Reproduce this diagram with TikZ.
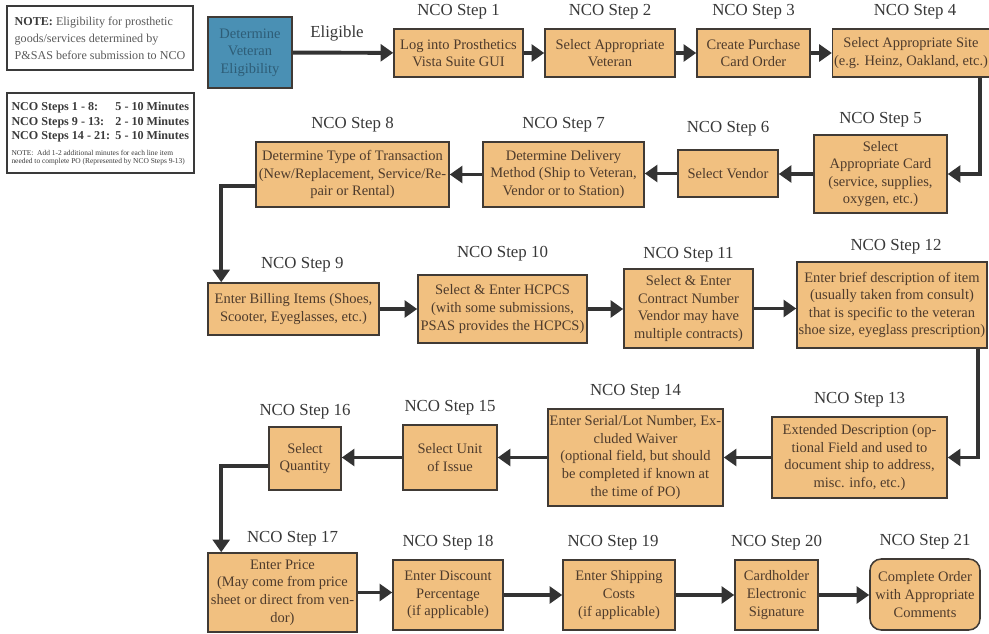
\documentclass[tikz,border=0pt]{standalone}
\usepackage{fontspec}
\setmainfont{Liberation Serif}
\usetikzlibrary{arrows.meta, positioning}
\definecolor{boxfill}{HTML}{F1C080}
\definecolor{boxline}{HTML}{403A35}
\definecolor{boxtext}{HTML}{4E3B2C}
\definecolor{labeltext}{HTML}{383838}
\definecolor{arrowgray}{HTML}{333333}
\definecolor{vetfill}{HTML}{4A90B4}
\definecolor{vettext}{HTML}{2E5D77}
\definecolor{notegray}{HTML}{3A3A3A}
\definecolor{notetext}{HTML}{5A5A5A}

\begin{document}
\begin{tikzpicture}[
	ncobox/.style={draw=boxline, fill=boxfill, line width=1.1pt, align=center, text=boxtext, inner sep=1pt, font=\fontsize{10.3}{12.5}\selectfont},
	stepname/.style={text=labeltext, inner sep=0pt, font=\fontsize{12}{14}\selectfont},
	flow/.style={draw=arrowgray, line width=2.8pt, -{Triangle[length=9pt,width=12pt]}},
	notebox/.style={draw=notegray, line width=2pt, text=notetext, inner sep=0pt}]
%	\draw[help lines] (0,0) grid (25,-16);
	\useasboundingbox (0,0) rectangle (24.725,-15.85);

	\node[notebox, align=left, minimum width=4.65cm, minimum height=1.6cm, font=\fontsize{8.6}{12}\selectfont] (note) at (2.5,-0.95)
		{\textcolor{notegray}{\textbf{NOTE:}} Eligibility for prosthetic\\goods/services determined by\\P\&SAS before submission to NCO};
	\node[notebox, minimum width=4.675cm, minimum height=2cm, text=notegray] (times) at (2.5125,-3.325)
		{\parbox{4.45cm}{\fontsize{8.6}{10.4}\selectfont\bfseries
		\begin{tabular}{@{}p{2.6cm}@{}l@{}}
		NCO Steps 1 - 8: & 5 - 10 Minutes\\
		NCO Steps 9 - 13: & 2 - 10 Minutes\\
		NCO Steps 14 - 21: & 5 - 10 Minutes
		\end{tabular}\par\vspace{3pt}
		\fontsize{5.3}{6.2}\selectfont\mdseries NOTE:\ \ Add 1-2 additional minutes for each line item\\needed to complete PO (Represented by NCO Steps 9-13)}};

	\node[ncobox, fill=vetfill, text=vettext, minimum width=2.1cm, minimum height=1.775cm] (vet) at (6.25,-1.3125) {Determine\\Veteran\\Eligibility};

	\node[ncobox, minimum width=3.225cm, minimum height=1.2cm] (s1) at (11.4625,-1.325) {Log into Prosthetics\\Vista Suite GUI};
	\node[ncobox, minimum width=3.25cm, minimum height=1.2cm] (s2) at (15.25,-1.325) {Select Appropriate\\Veteran};
	\node[ncobox, minimum width=2.825cm, minimum height=1.2cm] (s3) at (18.8375,-1.325) {Create Purchase\\Card Order};
	\node[ncobox, minimum width=3.8cm, minimum height=1.2cm] (s4) at (22.775,-1.325) {Select Appropriate Site\\(e.g. Heinz, Oakland, etc.)};

	\node[ncobox, minimum width=3.325cm, minimum height=1.95cm] (s5) at (22.0125,-4.35) {Select\\Appropriate Card\\(service, supplies,\\oxygen, etc.)};
	\node[ncobox, minimum width=2.5cm, minimum height=1.175cm] (s6) at (18.2,-4.3375) {Select Vendor};
	\node[ncobox, minimum width=4.025cm, minimum height=1.625cm] (s7) at (14.0875,-4.3625) {Determine Delivery\\Method (Ship to Veteran,\\Vendor or to Station)};
	\node[ncobox, minimum width=4.825cm, minimum height=1.625cm] (s8) at (8.8125,-4.3625) {Determine Type of Transaction\\(New/Replacement, Service/Re-\\pair or Rental)};

	\node[ncobox, minimum width=4.275cm, minimum height=1.3cm] (s9) at (7.3375,-7.725) {Enter Billing Items (Shoes,\\Scooter, Eyeglasses, etc.)};
	\node[ncobox, minimum width=4.225cm, minimum height=1.7cm] (s10) at (12.5625,-7.725) {Select \& Enter HCPCS\\(with some submissions,\\PSAS provides the HCPCS)};
	\node[ncobox, minimum width=3.225cm, minimum height=1.975cm] (s11) at (17.2125,-7.7125) {Select \& Enter\\Contract Number\\Vendor may have\\multiple contracts)};
	\node[ncobox, minimum width=4.75cm, minimum height=2.15cm] (s12) at (22.3,-7.625) {Enter brief description of item\\(usually taken from consult)\\that is specific to the veteran\\shoe size, eyeglass prescription)};

	\node[ncobox, minimum width=4.375cm, minimum height=2.025cm] (s13) at (21.4875,-11.4375) {Extended Description (op-\\tional Field and used to\\document ship to address,\\misc. info, etc.)};
	\node[ncobox, minimum width=4.375cm, minimum height=2.425cm] (s14) at (15.8875,-11.4375) {Enter Serial/Lot Number, Ex-\\cluded Waiver\\(optional field, but should\\be completed if known at\\the time of PO)};
	\node[ncobox, minimum width=2.35cm, minimum height=1.625cm] (s15) at (11.25,-11.4375) {Select Unit\\of Issue};
	\node[ncobox, minimum width=1.8cm, minimum height=1.575cm] (s16) at (7.625,-11.4625) {Select\\Quantity};

	\node[ncobox, minimum width=3.725cm, minimum height=1.975cm] (s17) at (7.0625,-14.8125) {Enter Price\\(May come from price\\sheet or direct from ven-\\dor)};
	\node[ncobox, minimum width=2.75cm, minimum height=1.75cm] (s18) at (11.2,-14.875) {Enter Discount\\Percentage\\(if applicable)};
	\node[ncobox, minimum width=2.8cm, minimum height=1.75cm] (s19) at (15.475,-14.875) {Enter Shipping\\Costs\\(if applicable)};
	\node[ncobox, minimum width=2.075cm, minimum height=1.75cm] (s20) at (19.4125,-14.875) {Cardholder\\Electronic\\Signature};
	\node[ncobox, rounded corners=8pt, minimum width=2.75cm, minimum height=1.775cm] (s21) at (23.125,-14.8625) {Complete Order\\with Appropriate\\Comments};

	\node[stepname] (n1) [above=6pt of s1] {NCO Step 1};
	\node[stepname] (n2) [above=6pt of s2] {NCO Step 2};
	\node[stepname] (n3) [above=6pt of s3] {NCO Step 3};
	\node[stepname] (n4) [above=6pt of s4, xshift=0.1cm] {NCO Step 4};
	\node[stepname] (n5) [above=5pt of s5] {NCO Step 5};
	\node[stepname] (n6) [above=9pt of s6] {NCO Step 6};
	\node[stepname] (n7) [above=6pt of s7] {NCO Step 7};
	\node[stepname] (n8) [above=6pt of s8] {NCO Step 8};
	\node[stepname] (n9) [above=7pt of s9, xshift=0.22cm] {NCO Step 9};
	\node[stepname] (n10) [above=9pt of s10] {NCO Step 10};
	\node[stepname] (n11) [above=4pt of s11] {NCO Step 11};
	\node[stepname] (n12) [above=5pt of s12, xshift=0.1cm] {NCO Step 12};
	\node[stepname] (n13) [above=6pt of s13] {NCO Step 13};
	\node[stepname] (n14) [above=6pt of s14] {NCO Step 14};
	\node[stepname] (n15) [above=6pt of s15] {NCO Step 15};
	\node[stepname] (n16) [above=5pt of s16] {NCO Step 16};
	\node[stepname] (n17) [above=4pt of s17, xshift=0.25cm] {NCO Step 17};
	\node[stepname] (n18) [above=6pt of s18] {NCO Step 18};
	\node[stepname] (n19) [above=6pt of s19, xshift=-0.15cm] {NCO Step 19};
	\node[stepname] (n20) [above=6pt of s20] {NCO Step 20};
	\node[stepname] (n21) [above=6pt of s21] {NCO Step 21};

	\draw[flow] (vet) -- node[stepname, above=7pt, xshift=-0.15cm] {Eligible} (s1);
	\draw[flow] (s1) -- (s2);
	\draw[flow] (s2) -- (s3);
	\draw[flow] (s3) -- (s4);
	\draw[flow] ([xshift=-0.25cm]s4.south east) |- (s5.east);
	\draw[flow] (s5.west) -- (s5.west -| s6.east);
	\draw[flow] (s6.west) -- (s6.west -| s7.east);
	\draw[flow] (s7) -- (s8);
	\draw[flow] ([yshift=-0.29cm]s8.west) -| ([xshift=0.35cm]s9.north west);
	\draw[flow] (s9) -- (s10);
	\draw[flow] (s10.east) -- (s10.east -| s11.west);
	\draw[flow] (s11.east) -- (s11.east -| s12.west);
	\draw[flow] ([xshift=-0.25cm]s12.south east) |- (s13.east);
	\draw[flow] (s13) -- (s14);
	\draw[flow] (s14) -- (s15);
	\draw[flow] (s15.west) -- (s15.west -| s16.east);
	\draw[flow] ([yshift=-0.19cm]s16.west) -| ([xshift=0.35cm]s17.north west);
	\draw[flow] (s17.east) -- (s17.east -| s18.west);
	\draw[flow] (s18) -- (s19);
	\draw[flow] (s19) -- (s20);
	\draw[flow] (s20.east) -- (s20.east -| s21.west);
\end{tikzpicture}
\end{document}
